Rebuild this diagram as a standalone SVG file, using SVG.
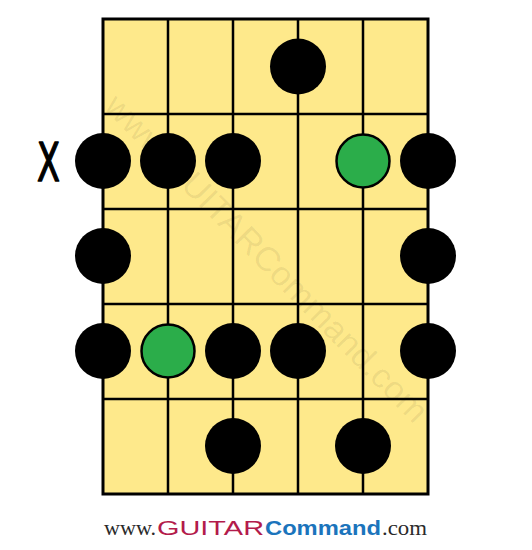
<svg xmlns="http://www.w3.org/2000/svg" width="532" height="550" viewBox="0 0 532 550">
<style>
.board{fill:#FEE98B;stroke:#000;stroke-width:3}
.ln{stroke:#000;stroke-width:2.5}
.blk{fill:#000}
.grn{fill:#2BAD4A;stroke:#000;stroke-width:2.5}
.wm{font-family:"Liberation Sans",Arial,sans-serif;font-size:34px;fill:#000;fill-opacity:0.07}
</style>
<rect width="532" height="550" fill="#fff"/>
<g id="board">
<rect class="board" x="103" y="19" width="325" height="475"/>
<text class="wm" transform="translate(267,258) rotate(45.5)" x="0" y="12" text-anchor="middle" textLength="444" lengthAdjust="spacingAndGlyphs">www.GUITARCommand.com</text>
</g>
<g id="connectors">
<line class="ln" x1="168" y1="19" x2="168" y2="494"/>
<line class="ln" x1="233" y1="19" x2="233" y2="494"/>
<line class="ln" x1="298" y1="19" x2="298" y2="494"/>
<line class="ln" x1="363" y1="19" x2="363" y2="494"/>
<line class="ln" x1="103" y1="114" x2="428" y2="114"/>
<line class="ln" x1="103" y1="209" x2="428" y2="209"/>
<line class="ln" x1="103" y1="304" x2="428" y2="304"/>
<line class="ln" x1="103" y1="399" x2="428" y2="399"/>
</g>
<g id="dots">
<circle class="blk" cx="298" cy="66.5" r="28"/>
<circle class="blk" cx="103" cy="161" r="28"/>
<circle class="blk" cx="168" cy="161" r="28"/>
<circle class="blk" cx="233" cy="161" r="28"/>
<circle class="grn" cx="363" cy="161" r="26.5"/>
<circle class="blk" cx="428" cy="161" r="28"/>
<circle class="blk" cx="103" cy="256" r="28"/>
<circle class="blk" cx="428" cy="256" r="28"/>
<circle class="blk" cx="103" cy="351" r="28"/>
<circle class="grn" cx="168" cy="351" r="26.5"/>
<circle class="blk" cx="233" cy="351" r="28"/>
<circle class="blk" cx="298" cy="351" r="28"/>
<circle class="blk" cx="428" cy="351" r="28"/>
<circle class="blk" cx="233" cy="446" r="28"/>
<circle class="blk" cx="363" cy="446" r="28"/>
</g>
<g id="mute">
<text transform="translate(48.5,181) scale(0.62,1)" x="0" y="0" text-anchor="middle" font-family="'DejaVu Sans',sans-serif" font-size="54" fill="#000" stroke="#000" stroke-width="1.5" stroke-linejoin="round">X</text>
</g>
<g id="logo">
<text y="535" font-size="21" font-family="'Liberation Serif','Times New Roman',serif" fill="#2a2a2a"><tspan x="104" textLength="52" lengthAdjust="spacingAndGlyphs">www.</tspan><tspan x="157" font-family="'Liberation Sans',Arial,sans-serif" fill="#B31B4B" textLength="107" lengthAdjust="spacingAndGlyphs">GUITAR</tspan><tspan x="265" font-family="'Liberation Sans',Arial,sans-serif" font-weight="bold" fill="#1B74BC" textLength="116" lengthAdjust="spacingAndGlyphs">Command</tspan><tspan x="382" textLength="45" lengthAdjust="spacingAndGlyphs">.com</tspan></text>
</g>
</svg>
